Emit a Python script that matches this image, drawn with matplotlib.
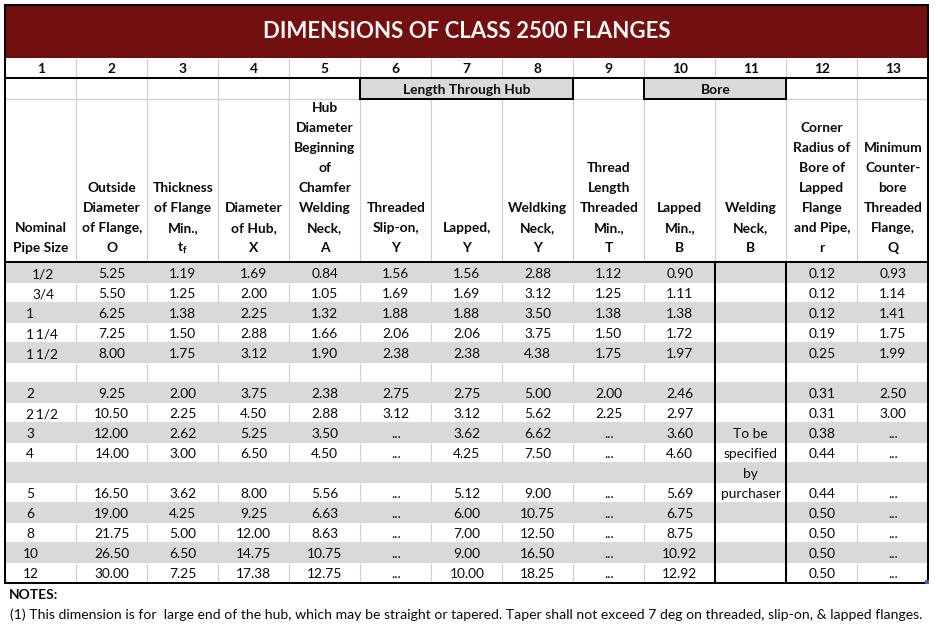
#!/usr/bin/env python3
"""Dimensions of class 2500 flanges, drawn as a spreadsheet style table."""
import matplotlib
matplotlib.use("Agg")
import matplotlib.pyplot as plt
from matplotlib.patches import Rectangle

TITLE = "DIMENSIONS OF CLASS 2500 FLANGES"
COLUMN_NUMBERS = [str(i) for i in range(1, 14)]
GROUPS = [("Length Through Hub", 5, 8), ("Bore", 9, 11)]
HEADERS = [
    ["Nominal", "Pipe Size"],
    ["Outside", "Diameter", "of Flange,", "O"],
    ["Thickness", "of Flange", "Min.,", r"$\mathbf{t_f}$"],
    ["Diameter", "of Hub,", "X"],
    ["Hub", "Diameter", "Beginning", "of", "Chamfer", "Welding", "Neck,", "A"],
    ["Threaded", "Slip-on,", "Y"],
    ["Lapped,", "Y"],
    ["Weldking", "Neck,", "Y"],
    ["Thread", "Length", "Threaded", "Min.,", "T"],
    ["Lapped", "Min.,", "B"],
    ["Welding", "Neck,", "B"],
    ["Corner", "Radius of", "Bore of", "Lapped", "Flange", "and Pipe,", "r"],
    ["Minimum", "Counter-", "bore", "Threaded", "Flange,", "Q"],
]

PIPE_SIZE = ["1/2", "3/4", "1", "1 1/4", "1 1/2", "", "2", "2 1/2", "3", "4", "", "5", "6", "8", "10", "12"]
OUTSIDE_DIA = ["5.25", "5.50", "6.25", "7.25", "8.00", "", "9.25", "10.50", "12.00", "14.00", "", "16.50", "19.00", "21.75", "26.50", "30.00"]
THICKNESS = ["1.19", "1.25", "1.38", "1.50", "1.75", "", "2.00", "2.25", "2.62", "3.00", "", "3.62", "4.25", "5.00", "6.50", "7.25"]
HUB_DIA = ["1.69", "2.00", "2.25", "2.88", "3.12", "", "3.75", "4.50", "5.25", "6.50", "", "8.00", "9.25", "12.00", "14.75", "17.38"]
CHAMFER_DIA = ["0.84", "1.05", "1.32", "1.66", "1.90", "", "2.38", "2.88", "3.50", "4.50", "", "5.56", "6.63", "8.63", "10.75", "12.75"]
LEN_SLIP_ON = ["1.56", "1.69", "1.88", "2.06", "2.38", "", "2.75", "3.12", "...", "...", "", "...", "...", "...", "...", "..."]
LEN_LAPPED = ["1.56", "1.69", "1.88", "2.06", "2.38", "", "2.75", "3.12", "3.62", "4.25", "", "5.12", "6.00", "7.00", "9.00", "10.00"]
LEN_WELD = ["2.88", "3.12", "3.50", "3.75", "4.38", "", "5.00", "5.62", "6.62", "7.50", "", "9.00", "10.75", "12.50", "16.50", "18.25"]
THREAD_LEN = ["1.12", "1.25", "1.38", "1.50", "1.75", "", "2.00", "2.25", "...", "...", "", "...", "...", "...", "...", "..."]
BORE_LAPPED = ["0.90", "1.11", "1.38", "1.72", "1.97", "", "2.46", "2.97", "3.60", "4.60", "", "5.69", "6.75", "8.75", "10.92", "12.92"]
BORE_WELD = ["", "", "", "", "", "", "", "", "To be", "specified", "by", "purchaser", "", "", "", ""]
CORNER_RADIUS = ["0.12", "0.12", "0.12", "0.19", "0.25", "", "0.31", "0.31", "0.38", "0.44", "", "0.44", "0.50", "0.50", "0.50", "0.50"]
COUNTERBORE = ["0.93", "1.14", "1.41", "1.75", "1.99", "", "2.50", "3.00", "...", "...", "", "...", "...", "...", "...", "..."]
NOTES_HEAD = "NOTES:"
NOTE_1 = "(1) This dimension is for  large end of the hub, which may be straight or tapered. Taper shall not exceed 7 deg on threaded, slip-on, & lapped flanges."

plt.rcParams["font.family"] = ["Lato", "DejaVu Sans"]
plt.rcParams["mathtext.fontset"] = "custom"
plt.rcParams["mathtext.bf"] = "Lato:bold"

INK = "#0a0a0a"
GREY = "#d9d9d9"
RULE = "#d0d0d0"
MAROON = "#720f11"
HEAD_SIZE = 9.95
BODY_SIZE = 9.95
NOTE_SIZE = 10.1

fig = plt.figure(figsize=(9.38, 6.3), dpi=100)
ax = fig.add_axes([0, 0, 1, 1])
ax.set_xlim(0, 938)
ax.set_ylim(630, 0)
ax.axis("off")

col_edges = [5 + 71 * i + (0.3 if i else 0) for i in range(14)]
row_edges = [262 + 20 * i + (i % 2) for i in range(17)]
centers = [(a + b) / 2 for a, b in zip(col_edges, col_edges[1:])]


def box(x0, y0, x1, y1, color, z=0.2):
    ax.add_patch(Rectangle((x0, y0), x1 - x0, y1 - y0, fc=color, ec="none", lw=0, zorder=z))


# bands and title block
box(5, 5, 928, 58, MAROON)
for i in range(16):
    if i % 2 == 0:
        box(5, row_edges[i], 928, row_edges[i + 1], GREY)

# light grid, only shows up on white cells
for x in col_edges[1:-1]:
    ax.vlines(x, 58, 262, color=RULE, lw=0.9, zorder=0.5)
    for i in range(1, 16, 2):
        ax.vlines(x, row_edges[i], row_edges[i + 1], color=RULE, lw=0.9, zorder=0.5)
ax.hlines(99, 5, 928, color=RULE, lw=0.9, zorder=0.5)

# group boxes
for label, first, last in GROUPS:
    x0, x1 = col_edges[first], col_edges[last]
    ax.add_patch(Rectangle((x0, 78), x1 - x0, 21, fc=GREY, ec="black", lw=1.45, zorder=1))
    ax.text((x0 + x1) / 2, 94.3, label, ha="center", va="baseline", fontsize=HEAD_SIZE, fontweight="bold", color=INK)

# heavy rules
ax.hlines([78, 262], 5, 928, color="black", lw=1.45)
ax.vlines([col_edges[10], col_edges[11]], 262, 583, color="black", lw=1.45)
ax.add_patch(Rectangle((5, 5), 923, 578, fc="none", ec="black", lw=1.45, zorder=2))
box(925, 580, 929, 584, "#3f5fae", z=3)

ax.text(466.5, 37.7, TITLE, ha="center", va="baseline", fontsize=16, fontweight="bold", color="#f4f4f4")

for x, num in zip(centers, COLUMN_NUMBERS):
    ax.text(x, 73.3, num, ha="center", va="baseline", fontsize=HEAD_SIZE, fontweight="bold", color=INK)

for x, lines in zip(centers, HEADERS):
    for n, line in enumerate(reversed(lines)):
        ax.text(x, 252.3 - 20 * n, line, ha="center", va="baseline", fontsize=HEAD_SIZE, fontweight="bold", color=INK)

# first column sits left of centre, like the spreadsheet did it
for i, size in enumerate(PIPE_SIZE):
    y = 278.3 + 20 * i
    label = size.replace(" ", "\u2009")
    if "/" in size and len(size) == 3:
        ax.text(43, y, label, ha="center", va="baseline", fontsize=BODY_SIZE, color=INK)
    elif len(size) == 2:
        ax.text(23, y, label, ha="left", va="baseline", fontsize=BODY_SIZE, color=INK)
    else:
        ax.text(26, y, label, ha="left", va="baseline", fontsize=BODY_SIZE, color=INK)

DATA_COLUMNS = [OUTSIDE_DIA, THICKNESS, HUB_DIA, CHAMFER_DIA, LEN_SLIP_ON, LEN_LAPPED, LEN_WELD,
                THREAD_LEN, BORE_LAPPED, BORE_WELD, CORNER_RADIUS, COUNTERBORE]
for x, values in zip(centers[1:], DATA_COLUMNS):
    for i, val in enumerate(values):
        ax.text(x, 278.3 + 20 * i, val, ha="center", va="baseline", fontsize=BODY_SIZE, color=INK)

ax.text(8.5, 599, NOTES_HEAD, ha="left", va="baseline", fontsize=HEAD_SIZE, fontweight="bold", color=INK)
ax.text(9.5, 619, NOTE_1, ha="left", va="baseline", fontsize=NOTE_SIZE, color=INK)

fig.savefig("out.png", dpi=100)
